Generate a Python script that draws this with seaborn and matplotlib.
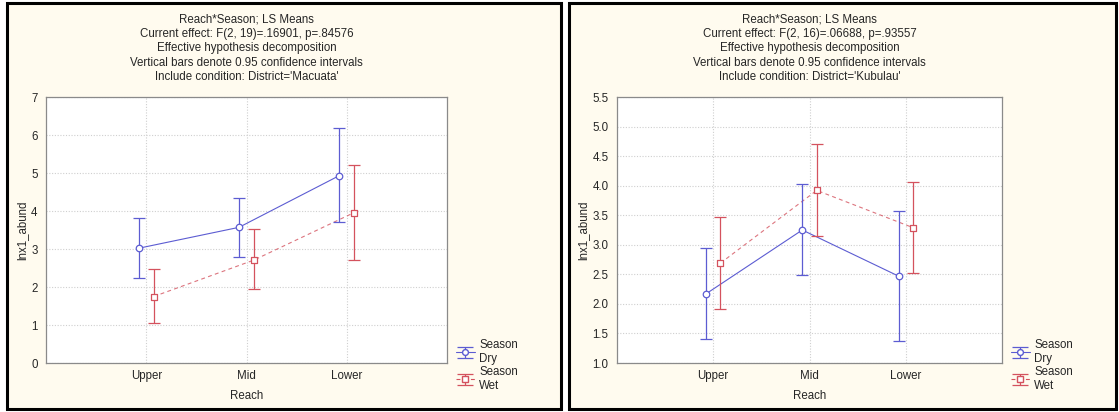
import numpy as np
import pandas as pd
import seaborn as sns
import matplotlib
matplotlib.use("Agg")
import matplotlib.pyplot as plt
from matplotlib.patches import Rectangle

# Reach levels and season groups
reaches = ["Upper", "Mid", "Lower"]
seasons = ["Dry", "Wet"]

# Macuata district: LS means and 0.95 confidence limits
mac_dry_mean = [3.02, 3.57, 4.93]
mac_dry_lo = [2.23, 2.78, 3.71]
mac_dry_hi = [3.82, 4.35, 6.18]
mac_wet_mean = [1.75, 2.71, 3.96]
mac_wet_lo = [1.04, 1.94, 2.71]
mac_wet_hi = [2.47, 3.53, 5.20]

# Kubulau district: LS means and 0.95 confidence limits
kub_dry_mean = [2.17, 3.25, 2.47]
kub_dry_lo = [1.40, 2.49, 1.38]
kub_dry_hi = [2.94, 4.02, 3.57]
kub_wet_mean = [2.69, 3.92, 3.29]
kub_wet_lo = [1.92, 3.15, 2.52]
kub_wet_hi = [3.47, 4.70, 4.07]

mac_title = ("Reach*Season; LS Means\n"
             "Current effect: F(2, 19)=.16901, p=.84576\n"
             "Effective hypothesis decomposition\n"
             "Vertical bars denote 0.95 confidence intervals\n"
             "Include condition: District='Macuata'")
kub_title = ("Reach*Season; LS Means\n"
             "Current effect: F(2, 16)=.06688, p=.93557\n"
             "Effective hypothesis decomposition\n"
             "Vertical bars denote 0.95 confidence intervals\n"
             "Include condition: District='Kubulau'")

sns.set_theme(style="white")
plt.rcParams["font.family"] = ["Liberation Sans", "DejaVu Sans"]
plt.rcParams["font.size"] = 8

BLUE = "#5C5CD2"
RED = "#D4525E"
PANEL = "#FFFBEF"
FS = 8.3

W, H = 1119, 412
fig = plt.figure(figsize=(W / 100, H / 100), dpi=100)
fig.patch.set_facecolor("white")


def px_box(x0, y0, x1, y1):
    """Convert pixel box (top-left origin) to figure fraction [l, b, w, h]."""
    return [x0 / W, (H - y1) / H, (x1 - x0) / W, (y1 - y0) / H]


# Cream panels with black borders, kept behind the axes
for (x0, x1) in [(7, 561), (569, 1116)]:
    l, b, w, h = px_box(x0, 3, x1, 409)
    fig.patches.append(Rectangle((l, b), w, h, transform=fig.transFigure,
                                 facecolor=PANEL, edgecolor="black",
                                 linewidth=2.2, zorder=-10))


def build_frame(dry_m, dry_l, dry_h, wet_m, wet_l, wet_h):
    rows = []
    for season, m, lo, hi in [("Dry", dry_m, dry_l, dry_h),
                              ("Wet", wet_m, wet_l, wet_h)]:
        for i, r in enumerate(reaches):
            rows.append(dict(Reach=r, pos=i, Season=season,
                             mean=m[i], lo=lo[i], hi=hi[i]))
    return pd.DataFrame(rows)


def draw_panel(box, df, title, ylim, yticks, yfmt):
    ax = fig.add_axes(px_box(*box))
    ax.set_zorder(5)
    ax.set_facecolor("white")
    offset = {"Dry": -0.075, "Wet": 0.075}
    style = {
        "Dry": dict(color=BLUE, marker="o", ls="-", lcolor=BLUE, alpha=1.0),
        "Wet": dict(color=RED, marker="s", ls=(0, (3.5, 3)), lcolor=RED, alpha=0.8),
    }
    handles = []
    for season in seasons:
        sub = df[df.Season == season].copy()
        sub["x"] = sub["pos"] + offset[season]
        st = style[season]
        sns.lineplot(data=sub, x="x", y="mean", ax=ax, color=st["lcolor"],
                     linestyle=st["ls"], linewidth=0.8, alpha=st["alpha"],
                     zorder=3, legend=False, estimator=None, sort=False)
        ax.errorbar(sub["x"], sub["mean"],
                    yerr=[sub["mean"] - sub["lo"], sub["hi"] - sub["mean"]],
                    fmt="none", ecolor=st["color"], elinewidth=0.9,
                    capsize=4.2, capthick=0.9, zorder=4)
        ax.scatter(sub["x"], sub["mean"], marker=st["marker"], s=22,
                   facecolor="white", edgecolor=st["color"], linewidth=0.9,
                   zorder=5)
        h = ax.errorbar([np.nan], [np.nan], yerr=[[1], [1]], color=st["color"],
                        marker=st["marker"], mfc="white", mec=st["color"],
                        ms=4.2, lw=0.8, ls=st["ls"], capsize=5.5,
                        elinewidth=0.9, capthick=0.9)
        handles.append((h, f"Season\n{season}"))

    ax.set_xlim(-1, 3)
    ax.set_ylim(*ylim)
    ax.set_xticks(range(len(reaches)))
    ax.set_xticklabels(reaches, fontsize=FS)
    ax.set_yticks(yticks)
    ax.set_yticklabels([yfmt.format(v) for v in yticks], fontsize=FS)
    ax.tick_params(length=0, pad=6)
    ax.tick_params(axis="x", pad=5)
    ax.grid(True, color="#cfcfcf", linestyle=(0, (1, 1.5)), linewidth=0.8)
    for s in ax.spines.values():
        s.set_color("#8a8a8a")
        s.set_linewidth(0.9)
    ax.set_xlabel("Reach", fontsize=FS, labelpad=5.5)
    ax.set_ylabel("lnx1_abund", fontsize=FS, labelpad=2)
    ax.set_title(title, fontsize=FS, linespacing=1.28, pad=12)
    ax.legend([h for h, _ in handles], [t for _, t in handles],
              loc="upper left", bbox_to_anchor=(1.0, 0.125),
              frameon=False, fontsize=FS, handlelength=1.6,
              handletextpad=0.4, labelspacing=0.1, borderaxespad=0.6,
              borderpad=0.2)
    return ax


mac = build_frame(mac_dry_mean, mac_dry_lo, mac_dry_hi,
                  mac_wet_mean, mac_wet_lo, mac_wet_hi)
kub = build_frame(kub_dry_mean, kub_dry_lo, kub_dry_hi,
                  kub_wet_mean, kub_wet_lo, kub_wet_hi)

draw_panel((46, 97, 447, 363), mac, mac_title, (0, 7), list(range(0, 8)), "{:d}")
draw_panel((617, 97, 1002, 363), kub, kub_title, (1.0, 5.5),
           list(np.arange(1.0, 5.51, 0.5)), "{:.1f}")

fig.savefig("out.png", dpi=100, facecolor=fig.get_facecolor())
